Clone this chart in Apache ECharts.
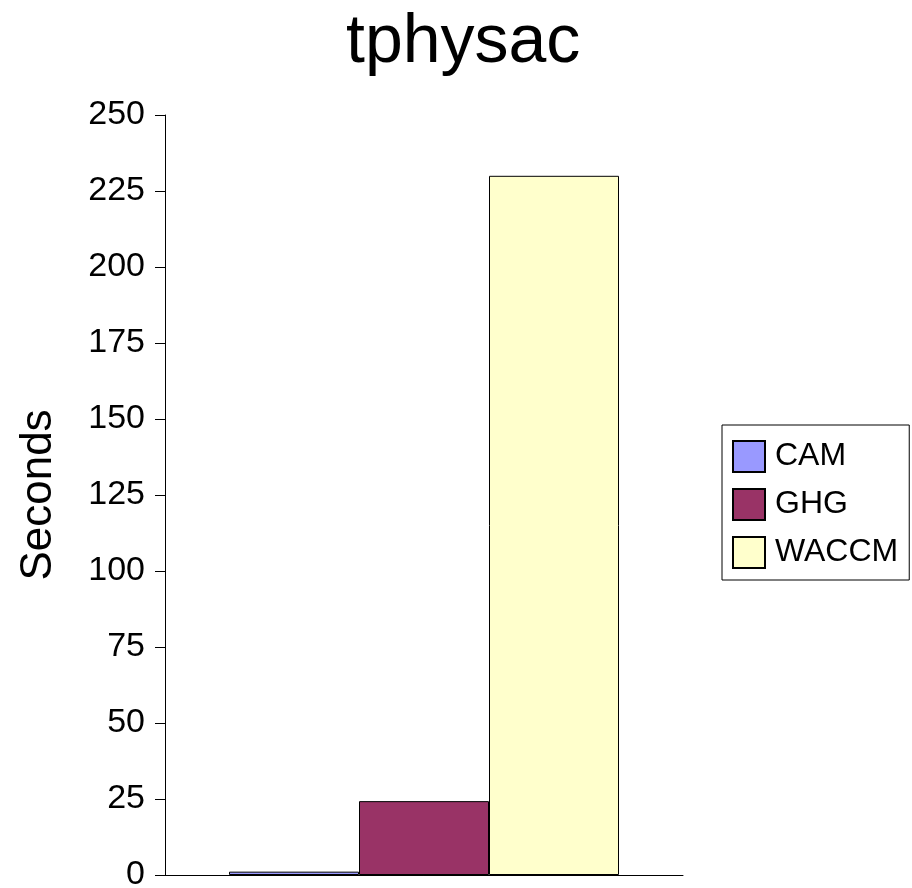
<!DOCTYPE html>
<html>
<head>
<meta charset="utf-8">
<script src="https://cdn.jsdelivr.net/npm/echarts@6/dist/echarts.min.js"></script>
<style>
  html, body { margin: 0; padding: 0; background: #fff; }
  #main { width: 912px; height: 888px; }
</style>
</head>
<body>
<div id="main"></div>
<script>
const seriesNames = ['CAM', 'GHG', 'WACCM']
const seriesValues = [1.1, 24.3, 230]
const seriesColors = ['#9999ff', '#993366', '#ffffcc']
const yTicks = { min: 0, max: 250, interval: 25 }

const font = '"Liberation Sans", Arial, sans-serif'

var myChart = echarts.init(document.getElementById('main'))

var option = {
  backgroundColor: '#fff',
  animation: false,
  title: {
    text: 'tphysac',
    left: 341,
    top: 4,
    textStyle: { fontFamily: font, fontSize: 68, fontWeight: 'normal', color: '#000' }
  },
  legend: {
    orient: 'vertical',
    left: 722,
    top: 425,
    padding: [15, 11, 11, 10],
    borderColor: '#000',
    borderWidth: 1,
    itemWidth: 32,
    itemHeight: 31,
    itemGap: 15,
    icon: 'rect',
    textStyle: { fontFamily: font, fontSize: 32, lineHeight: 31, color: '#000', padding: [0, 0, 0, 5] },
    data: seriesNames
  },
  grid: { left: 165, right: 229, top: 115, bottom: 13, containLabel: false, outerBoundsMode: 'none' },
  xAxis: {
    type: 'category',
    data: [''],
    axisLine: { lineStyle: { color: '#000', width: 1 } },
    axisTick: { show: false },
    axisLabel: { show: false }
  },
  yAxis: {
    type: 'value',
    min: yTicks.min,
    max: yTicks.max,
    interval: yTicks.interval,
    name: 'Seconds',
    nameLocation: 'middle',
    nameGap: 104,
    nameTextStyle: { fontFamily: font, fontSize: 44, color: '#000' },
    axisLine: { show: true, lineStyle: { color: '#000', width: 1 } },
    axisTick: { show: true, length: 10, lineStyle: { color: '#000' } },
    axisLabel: { fontFamily: font, fontSize: 34, color: '#000', margin: 20 },
    splitLine: { show: false }
  },
  series: seriesNames.map((name, i) => ({
    name: name,
    type: 'bar',
    data: [seriesValues[i]],
    barWidth: 130,
    barGap: '0%',
    itemStyle: { color: seriesColors[i], borderColor: '#000', borderWidth: 1 }
  }))
}

myChart.setOption(option)
window.addEventListener('resize', () => {
  myChart.resize()
})
</script>
</body>
</html>
